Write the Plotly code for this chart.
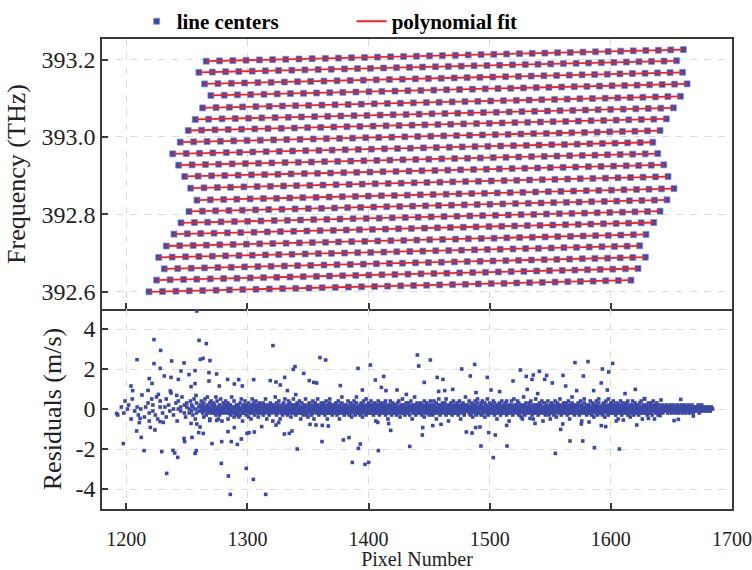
import numpy as np
import plotly.graph_objects as go
from plotly.subplots import make_subplots

# ---- comb line centres on the detector, one row per echelle order ----
order_start_px = [1266.0, 1260.0, 1264.7, 1269.9, 1263.1, 1257.0, 1251.2, 1244.6, 1238.4, 1243.3, 1248.3,
                  1253.2, 1258.4, 1251.8, 1245.2, 1239.4, 1233.1, 1226.8, 1231.4, 1225.1, 1218.8]
order_end_px = [1659.8, 1654.2, 1659.2, 1662.9, 1657.4, 1651.6, 1645.8, 1640.6, 1634.6, 1638.7, 1643.7,
                1647.2, 1652.1, 1646.3, 1640.6, 1635.4, 1629.0, 1623.8, 1628.5, 1622.4, 1616.6]
order_start_thz = [393.1956, 393.1667, 393.1369, 393.1070, 393.0749, 393.0450, 393.0165, 392.9863, 392.9561,
                   392.9269, 392.8977, 392.8674, 392.8364, 392.8072, 392.7778, 392.7486, 392.7178, 392.6884,
                   392.6589, 392.6297, 392.5995]

# position of each comb mode along an order (pixels) and its frequency offset (GHz)
mode_px_offset = [0.0, 11.0, 22.0, 32.9, 43.9, 54.8, 65.7, 76.6, 87.4, 98.3, 109.1, 119.9, 130.7, 141.4,
                  152.2, 162.9, 173.6, 184.3, 194.9, 205.6, 216.2, 226.8, 237.4, 247.9, 258.5, 269.0,
                  279.5, 290.0, 300.4, 310.9, 321.3, 331.7, 342.1, 352.4, 362.8, 373.1, 383.4, 393.7]
mode_ghz_offset = [0.00, 0.81, 1.62, 2.43, 3.24, 4.05, 4.86, 5.68, 6.49, 7.30, 8.11, 8.92, 9.73, 10.54,
                   11.35, 12.16, 12.97, 13.78, 14.59, 15.41, 16.22, 17.03, 17.84, 18.65, 19.46, 20.27,
                   21.08, 21.89, 22.70, 23.51, 24.32, 25.14, 25.95, 26.76, 27.57, 28.38, 29.19, 30.00]

# ---- residuals of the fit (m/s) ----
# isolated points: (pixel, residual)
res_outliers = [
    (1258.2, 4.9), (1222.9, 3.47), (1260.1, 3.43), (1266.1, 3.27), (1228.4, 2.93), (1208.9, 2.47),
    (1222.9, 2.27), (1237.5, 2.4), (1247.7, 2.3), (1261.1, 2.48), (1263.4, 2.53), (1269.1, 2.42),
    (1228.1, 2.03), (1245.2, 1.9), (1256.8, 1.92), (1251.8, 1.72), (1268.3, 1.82), (1274.6, 1.75),
    (1231.4, 1.65), (1237.0, 1.58), (1219.0, 1.52), (1221.3, 1.28), (1243.0, 1.48), (1268.3, 1.4),
    (1283.7, 1.48), (1292.8, 1.47), (1305.2, 1.47), (1203.9, 1.15), (1205.3, 0.92), (1253.5, 1.12),
    (1256.8, 1.27), (1276.8, 1.15), (1289.2, 1.25), (1295.8, 1.15), (1236.4, 0.9), (1241.7, 0.68),
    (1226.5, 0.73), (1218.0, 0.93), (1257.6, 0.68),
    (1192.1, -0.22), (1211.4, -0.47), (1210.8, -0.68), (1208.6, -1.1), (1212.4, -1.42), (1197.6, -1.73),
    (1214.7, -2.08), (1229.3, -2.13), (1238.6, -2.07), (1240.0, -2.2), (1242.5, -2.42), (1233.4, -3.22),
    (1219.9, -0.92), (1227.9, -0.63), (1223.7, -1.05), (1247.7, -1.47), (1248.2, -1.63), (1254.3, -1.42),
    (1259.8, -1.18), (1263.6, -1.22), (1257.8, -2.08), (1256.8, -2.22), (1253.5, -0.72), (1258.2, -0.75),
    (1260.9, -0.9), (1270.8, -1.73), (1278.8, -1.63), (1278.5, -2.72), (1284.3, -3.35), (1285.9, -4.27),
    (1286.7, -1.63), (1291.7, -1.77), (1289.2, -0.93), (1295.0, -1.5), (1299.7, -1.22), (1299.1, -2.97),
    (1304.9, -3.52), (1305.7, -1.15), (1284.0, -1.13), (1268.9, -0.58), (1274.7, -0.57), (1230.6, -0.67),
    (1321.1, 3.17), (1318.9, 1.42), (1323.6, 1.35), (1327.2, 1.2), (1330.8, 1.58), (1337.9, 1.98),
    (1339.3, 2.12), (1346.5, 1.78), (1351.1, 1.42), (1354.8, 1.33), (1357.2, 1.3), (1359.9, 2.57),
    (1364.6, 2.45), (1333.0, 0.92), (1339.9, 0.72), (1376.7, 1.17), (1391.3, 2.03), (1401.5, 2.2),
    (1394.9, 0.95), (1405.6, 1.45), (1412.5, 1.63), (1410.6, 1.08), (1414.4, 0.92), (1423.5, 0.95),
    (1431.2, 0.73), (1440.3, 2.7), (1441.4, 2.15), (1451.0, 2.45), (1446.0, 1.33), (1456.7, 1.58),
    (1461.4, 1.48), (1457.9, 0.88), (1462.9, 0.92),
    (1315.1, -4.27), (1341.1, -2.0), (1330.5, -1.25), (1334.6, -1.22), (1336.8, -1.1), (1323.6, -0.8),
    (1325.8, -0.68), (1311.8, -0.88), (1301.3, -1.18), (1351.7, -0.77), (1356.6, -0.8), (1361.8, -0.82),
    (1361.6, -1.63), (1366.8, -0.85), (1379.2, -1.55), (1383.9, -1.43), (1386.6, -2.67), (1391.6, -1.97),
    (1393.2, -1.75), (1397.1, -2.77), (1400.1, -2.67), (1408.1, -2.08), (1407.6, -0.67), (1416.6, -0.73),
    (1418.3, -1.07), (1434.0, -1.87), (1444.7, -0.93), (1444.4, -1.3), (1453.0, -0.83), (1459.8, -0.77),
    (1487.6, 2.23), (1476.9, 2.0), (1484.0, 1.65), (1498.0, 1.58), (1501.1, 0.95), (1508.2, 0.87),
    (1488.7, 0.82), (1469.5, 0.98), (1525.3, 1.95), (1530.2, 1.63), (1536.0, 1.7), (1541.0, 1.88),
    (1547.0, 1.68), (1545.4, 1.48), (1534.9, 1.48), (1519.3, 1.4), (1551.7, 1.3), (1531.0, 0.98),
    (1539.6, 0.77), (1560.5, 1.68), (1570.4, 2.32), (1581.1, 2.37), (1577.3, 1.65), (1562.7, 1.15),
    (1571.8, 0.92), (1585.8, 0.92), (1593.0, 2.0), (1601.5, 2.28), (1598.2, 1.85), (1592.1, 1.3),
    (1597.1, 0.95), (1611.7, 0.77), (1620.2, 0.98), (1627.6, 0.52), (1657.7, 0.48), (1641.4, 0.45),
    (1480.7, -1.15), (1485.4, -1.2), (1488.5, -0.93), (1492.0, -0.9), (1492.8, -1.85), (1503.0, -2.43),
    (1499.2, -1.18), (1504.6, -1.3), (1514.3, -1.85), (1514.0, -0.82), (1533.3, -0.47), (1537.4, -0.72),
    (1554.2, -2.22), (1558.6, -1.02), (1560.3, -0.75), (1566.3, -1.6), (1576.8, -1.6), (1575.6, -0.75),
    (1582.0, -0.65), (1586.4, -1.93), (1592.1, -0.83), (1595.7, -0.88), (1607.0, -2.0), (1604.5, -0.6),
    (1610.3, -0.55), (1621.4, -0.8), (1631.0, -0.47), (1640.6, -0.33), (1652.2, -0.58), (1655.7, -0.52),
    (1668.1, -0.35),
]

# dense core: one group per pixel column starting at core_start_px, '-' = empty column.
# letter code: 'm' = 0, one letter step = core_step_ms
core_start_px = 1192
core_step_ms = 0.1
core_rows = [
    "- j - - n - k q - m",
    "o - h r - l - n j -",
    "m t - i n - p kg - r",
    "lo - j s h - nq - k -",
    "n ir - o l u - jm - p",
    "g mq - ln s - ok i np -",
    "mk q lo jn r mh pk - nl o",
    "lnq kmo ipm nlr jm oks mln hmp lkq nom",
    "mkp nlo jms qmk lnh omj klr nmg pkm lon",
    "mlq kno hmp nlk ojm mls lkn qmi mnk olj",
    "kmo nli mpj lrm nkg omk lqn jmo nml pki",
    "mnl okh lmr nkp jmo mlq onk lmi kpn mlo",
    "nkm ljp omk mnr lhm okn mlj pmn klo nmg",
    "lom kns mjp nlk omq lmh knm ojl mpk lnr",
    "mkn olj nmq kpl mio lnk omr kml njo mpk",
    "olm kmq nlh mpk ljn omk nrl kmj moi lnp",
    "mnk ojl kmq nmh lpo mkn olr jmk nlm kpo",
    "nlm kop mjn lqk omh nkl mpr kon lmj omn",
    "kml nop mlj qkn mho lmk nps kml ojm nlk",
    "mon klq njm lkp omi nlm kqo mjn lps knm",
    "lnk moj kpm nli qmo lkn mjr onk mlp kon",
    "mkq nlo jmn plk mog nkl omq lmj knp mol",
    "nmk lpo mjq knl omh mkn lqo nmj kmp onl",
    "kom nlj mpn lqk nmi okl mnr kmo ljn pmk",
    "lnm kpo njm mlq onh kml nos mkj lnp omk",
    "mlo nkp kmj onl mqi lnk omp kmn jlo nmq",
    "okm lnj mqo nkl pmh lmk nor mjl kon mnp",
    "nlm kop mjr lnk omg nkm lpo kmj nql mko",
    "mkn olp nmj kql omh mln kop mkj lns nmo",
    "lmo nkq mjn plk omi nlm kqo mjn lpr knm",
    "mnk ojp kmq nlm lpi mko nlr jmn kpm olm",
    "kmo nlq mjp lnk onh mkl npo kmj lqn mok",
    "nmk lpo jmq knl omg mkn lqo nmj kmr onl",
    "lom knq mjp nlk omi lmh kns ojl mpk lnm",
    "mkn olp nmq kjl mho lnk omr kml njo mpk",
    "olm kmq nlg mpk ljn omk nql kmj moh lnp",
    "mnk ojl kmq nmi lpo mkn olr jmk nlm kpo",
    "nlm kop mjn lqk omh nkl mps kon lmj omn",
    "kml nop mlj qkn mgo lmk npr kml ojm nlk",
    "mon klq njm lkp omi nlm kqo mjn lpr knm",
    "lnk moj kpm nli qmo lkn mjr onk mlp kon",
    "mkq nlo jmn plk moh nkl omq lmj knp mol",
    "nmk lpo mjq knl omi mkn lqo nmj kmp onl",
    "kom nlj mpn lqk nmh okl mnr kmo ljn pmk",
    "lnm kpo njm mlq onh kml nop mkj",
    "lo mk nl ko mn lm on km ln mo",
    "km nl mo lk nm ol mk ln om kn",
    "ml no lk mn om kl nm lo mk nl",
    "mn lm om kn ml no lm mn ml nm",
    "lm mn ml mn m",
]

x_ticks = [1200, 1300, 1400, 1500, 1600, 1700]
f_ticks = [392.6, 392.8, 393.0, 393.2]
f_ticktext = ["392.6", "392.8", "393.0", "393.2"]
r_ticks = [-4, -2, 0, 2, 4]
r_ticktext = ["-4", "-2", "0", "2", "4"]

BLUE = "#3d49a6"
RED = "#ff1f1f"
AXIS = "#3a3a3a"
SERIF = "Liberation Serif, Times New Roman, serif"

# ---- build line-centre table and per-order polynomial fits ----
off_px = np.array(mode_px_offset)
off_thz = np.array(mode_ghz_offset) / 1000.0
lc_x, lc_y, fit_x, fit_y = [], [], [], []
for p0, p1, f0 in zip(order_start_px, order_end_px, order_start_thz):
    px = p0 + off_px * (p1 - p0) / off_px[-1]
    fr = f0 + off_thz
    lc_x.extend(px.tolist())
    lc_y.extend(fr.tolist())
    pc = px - px.mean()
    coef = np.polyfit(pc, fr - f0, 2)
    fit_x.extend(px.tolist() + [None])
    fit_y.extend((np.polyval(coef, pc) + f0).tolist() + [None])

# ---- residual table ----
res_x = [p for p, _ in res_outliers]
res_y = [r for _, r in res_outliers]
groups = " ".join(core_rows).split()
for i, g in enumerate(groups):
    if g == "-":
        continue
    for c in g:
        res_x.append(core_start_px + i)
        res_y.append((ord(c) - ord("m")) * core_step_ms)

fig = make_subplots(rows=2, cols=1, shared_xaxes=True, vertical_spacing=0,
                    row_heights=[270 / 470, 200 / 470])

fig.add_trace(go.Scatter(
    x=lc_x, y=lc_y, mode="markers", name="line centers",
    marker=dict(symbol="square", size=6, color=BLUE,
                line=dict(color="rgba(130,140,210,0.75)", width=1)),
), row=1, col=1)
fig.add_trace(go.Scatter(
    x=fit_x, y=fit_y, mode="lines", name="polynomial fit",
    line=dict(color=RED, width=1.8), connectgaps=False,
), row=1, col=1)
fig.add_trace(go.Scatter(
    x=res_x, y=res_y, mode="markers", showlegend=False,
    marker=dict(symbol="square", size=3.6, color=BLUE),
), row=2, col=1)

axis_style = dict(
    showline=True, linecolor=AXIS, linewidth=1.5,
    ticks="inside", ticklen=6, tickwidth=1.5, tickcolor=AXIS,
    showgrid=True, gridcolor="#dcdcdc", gridwidth=1, griddash="7px,7px",
    zeroline=False,
)

fig.update_xaxes(range=[1180, 1700], tickvals=x_ticks, **axis_style)
fig.update_xaxes(showticklabels=False, mirror=True, row=1, col=1)
fig.update_xaxes(
    mirror=False, ticklabelstandoff=11,
    tickfont=dict(family=SERIF, size=20, color="#222222"),
    title=dict(text="Pixel Number", font=dict(family=SERIF, size=20, color="#222222"), standoff=16),
    row=2, col=1,
)
fig.update_yaxes(
    range=[392.555, 393.253], tickvals=f_ticks, ticktext=f_ticktext, mirror=True,
    tickfont=dict(family=SERIF, size=24, color="#222222"),
    title=dict(text="Frequency (THz)", font=dict(family=SERIF, size=26, color="#222222"), standoff=8),
    row=1, col=1, **axis_style,
)
fig.update_yaxes(
    range=[-5, 5], tickvals=r_ticks, ticktext=r_ticktext, mirror=True,
    tickfont=dict(family=SERIF, size=24, color="#222222"),
    title=dict(text="Residuals (m/s)", font=dict(family=SERIF, size=26, color="#222222"), standoff=6),
    row=2, col=1, **axis_style,
)

fig.update_layout(
    width=752, height=570,
    margin=dict(l=102, r=20, t=39, b=61, autoexpand=False),
    paper_bgcolor="white", plot_bgcolor="white",
    showlegend=True,
    legend=dict(
        orientation="h", x=0.055, y=1.037, xanchor="left", yanchor="middle",
        font=dict(family=SERIF, size=21, color="black", weight="bold"),
        entrywidth=170, entrywidthmode="pixels",
        bgcolor="rgba(0,0,0,0)",
    ),
)

fig.write_html("out.html")
